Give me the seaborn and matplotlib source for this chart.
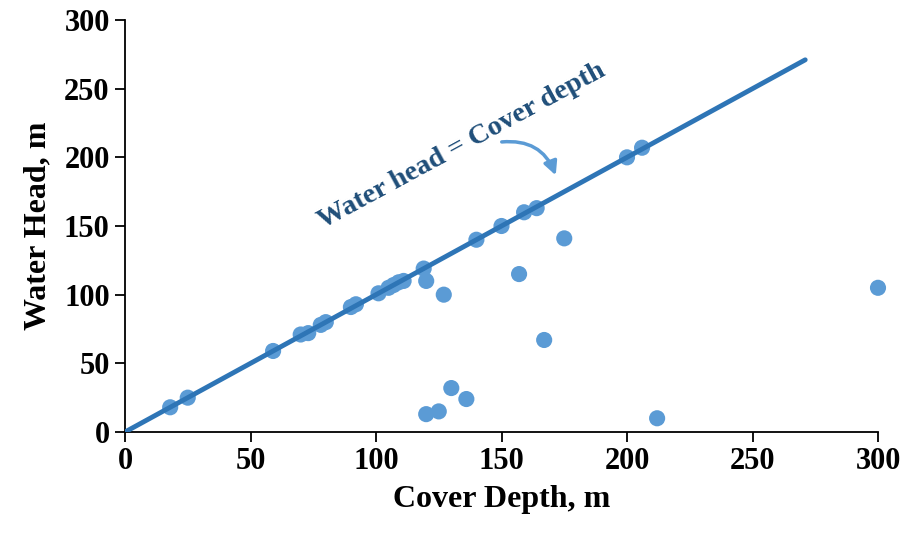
import numpy as np
import pandas as pd
import seaborn as sns
import matplotlib.pyplot as plt

# cover depth / water head measurements (m)
cover_depth = [18, 25, 59, 70, 73, 78, 80, 90, 92, 101, 105, 107, 109, 111,
               119, 120, 127, 120, 125, 130, 136, 140, 150, 159, 164, 157,
               167, 175, 200, 206, 212, 300]
water_head = [18, 25, 59, 71, 72, 78, 80, 91, 93, 101, 105, 107, 109, 110,
              119, 110, 100, 13, 15, 32, 24, 140, 150, 160, 163, 115,
              67, 141, 200, 207, 10, 105]
line_x = [-2, 271]

data = pd.DataFrame({'Cover': cover_depth, 'Head': water_head})
line = pd.DataFrame({'x': line_x, 'y': line_x})

sns.set_style('white')
plt.rcParams['font.family'] = ['Liberation Serif', 'DejaVu Serif']
plt.rcParams['font.weight'] = 'bold'

fig = plt.figure(figsize=(9.07, 5.35), dpi=100)
ax = fig.add_axes([125/907, 1-432/535, (878-125)/907, (432-20)/535])

sns.scatterplot(data=data, x='Cover', y='Head', ax=ax, color='#5B9BD5',
                s=135, edgecolor='none', zorder=2, clip_on=False)
sns.lineplot(data=line, x='x', y='y', ax=ax, color='#2E75B6', linewidth=3.5,
             zorder=3)

ax.set_xlim(0, 300)
ax.set_ylim(0, 300)
ax.set_xticks(range(0, 301, 50))
ax.set_yticks(range(0, 301, 50))
ax.tick_params(axis='both', direction='out', length=7, width=1.3,
               labelsize=22, colors='black', bottom=True, left=True, pad=4)
for lab in ax.get_xticklabels() + ax.get_yticklabels():
    lab.set_fontweight('bold')
sns.despine(ax=ax)
for sp in ['left', 'bottom']:
    ax.spines[sp].set_linewidth(1.3)
    ax.spines[sp].set_color('black')
ax.set_xlabel('Cover Depth, m', fontsize=23, fontweight='bold', labelpad=6,
              color='black')
ax.set_ylabel('Water Head, m', fontsize=23, fontweight='bold', labelpad=8,
              color='black')

ax.text(134, 208, 'Water head = Cover depth', rotation=28.5, fontsize=20.5,
        fontweight='bold', color='#1F4E79', ha='center', va='center',
        rotation_mode='anchor')
ax.annotate('', xy=(172, 185), xytext=(149, 211),
            arrowprops=dict(arrowstyle='-|>', color='#5B9BD5', lw=2.5,
                            mutation_scale=20,
                            connectionstyle='arc3,rad=-0.4'))

fig.savefig('out.png', dpi=100)
